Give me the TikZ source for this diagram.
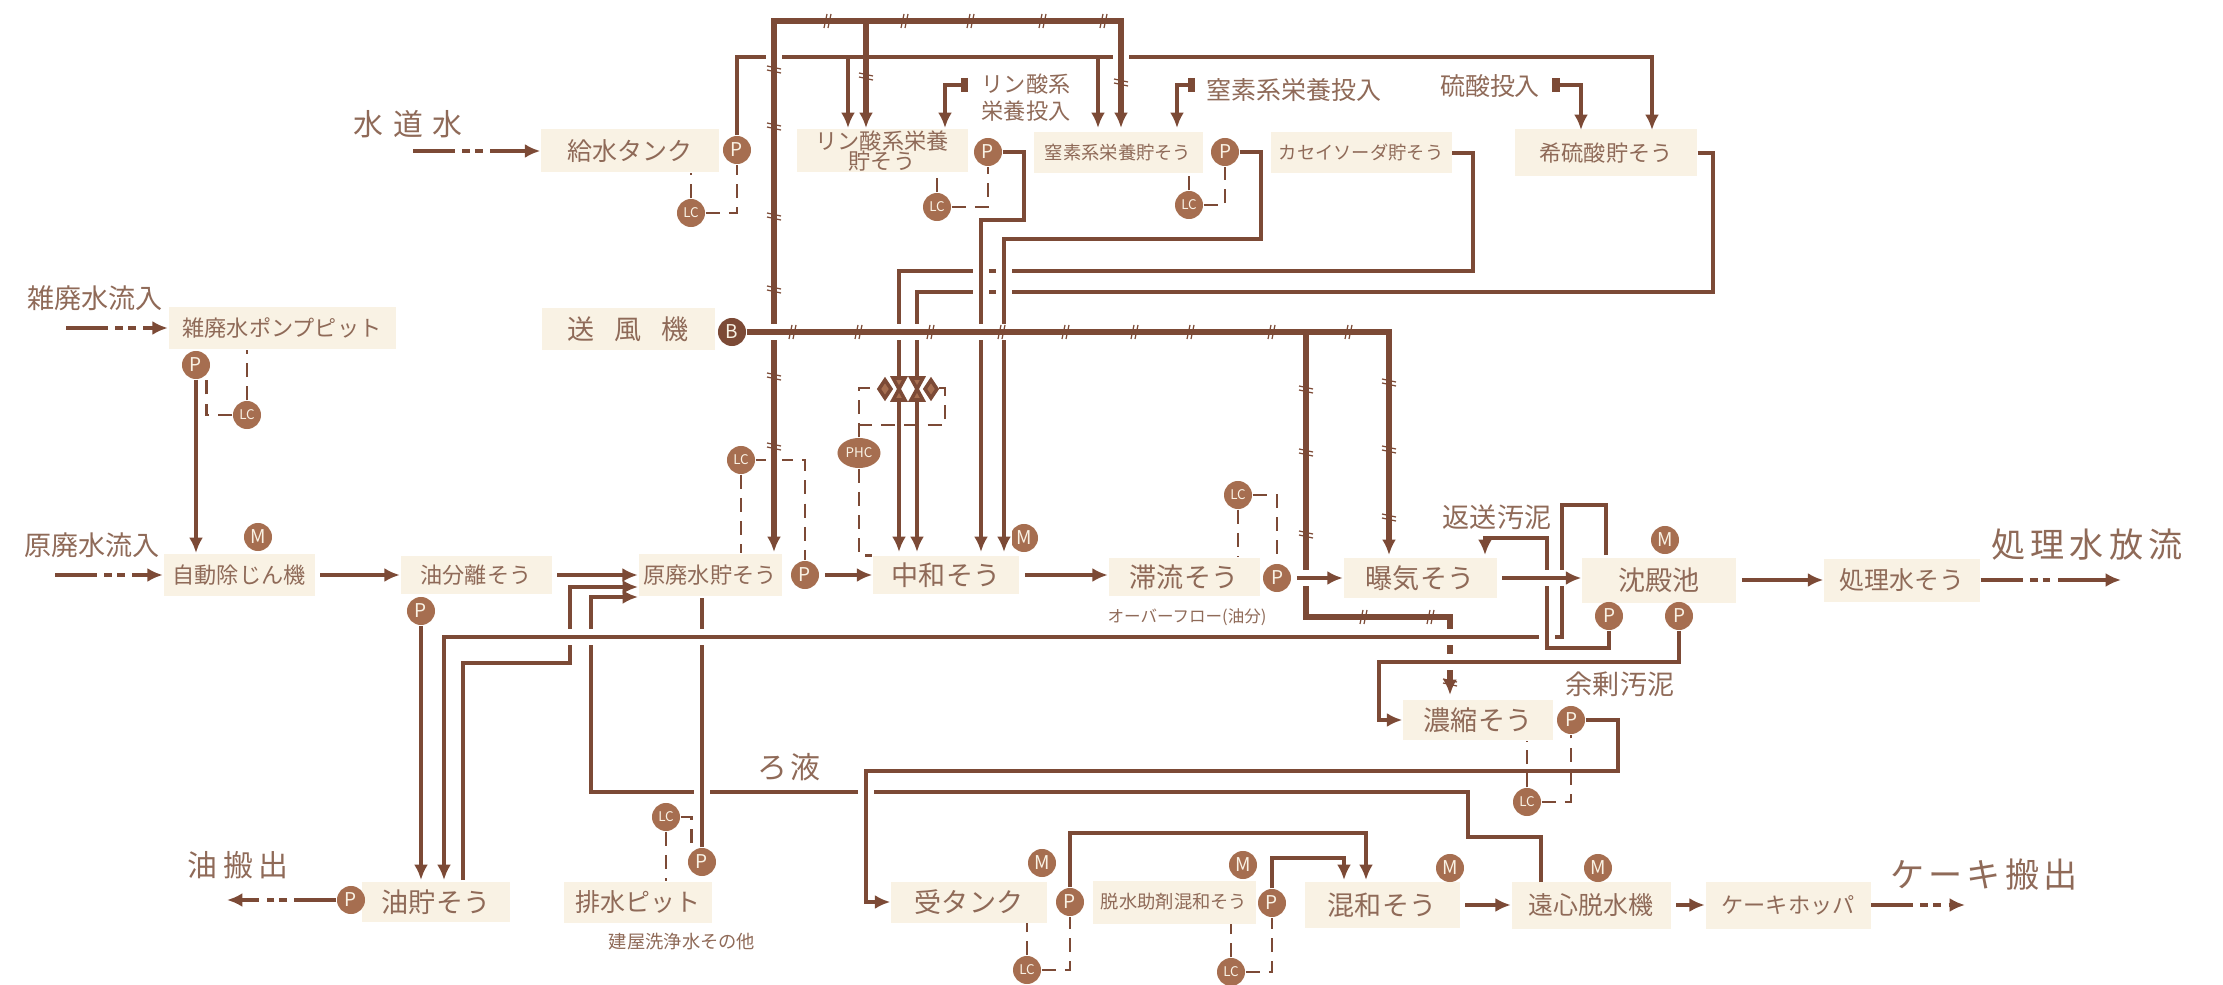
\documentclass[tikz,border=0pt]{standalone}
\usepackage{fontspec}
\setmainfont{Noto Sans CJK JP}
\usetikzlibrary{arrows.meta,shapes.geometric}
\definecolor{inkcol}{HTML}{7C4A36}
\definecolor{txtcol}{HTML}{8F6A58}
\definecolor{boxcol}{HTML}{F9F2E4}
\definecolor{dotcol}{HTML}{A66E50}
\newcommand{\wgap}[1]{\hspace{#1mm}}
\tikzset{
  f16/.style={font=\fontsize{4.7}{5.6}\selectfont},
  f18/.style={font=\fontsize{5.2}{6.2}\selectfont},
  f22/.style={font=\fontsize{6.3}{7.7}\selectfont},
  f25/.style={font=\fontsize{7.1}{8.5}\selectfont},
  f27/.style={font=\fontsize{7.7}{9.2}\selectfont},
  f30/.style={font=\fontsize{8.5}{10}\selectfont},
  f34/.style={font=\fontsize{9.7}{11.6}\selectfont},
  tank/.style n args={2}{fill=boxcol,text=txtcol,inner sep=0pt,align=center,
    minimum width=#1*0.01cm,minimum height=#2*0.01cm},
  label/.style={text=txtcol,inner sep=0pt,align=center},
  unit/.style={circle,fill=dotcol,text=boxcol,inner sep=0pt,minimum size=0.28cm,
    font=\fontsize{5.4}{6}\selectfont},
  lctl/.style={unit,font=\fontsize{3.8}{4}\selectfont},
  pipe/.style={draw=inkcol,line width=1pt},
  flow/.style={draw=inkcol,line width=1.3pt,shorten <=1.5pt},
  air/.style={draw=inkcol,line width=1.6pt},
  over/.style={preaction={-,draw=white,line width=4.8pt}},
  signal/.style={draw=inkcol,line width=.8pt,dash pattern=on 4pt off 2.6pt},
  feed/.style={draw=inkcol,line width=1.4pt,
    dash pattern=on 12pt off 2pt on 2.2pt off 1.4pt on 2.2pt off 2.2pt on 40pt off 0pt},
  dose/.style={arrows={Bar[width=4pt,sep=.7pt]Bar[width=4pt]}-{Latex[length=4.4pt,width=4pt]}},
  airtick/.pic={\draw[inkcol,line width=.35pt] (-3,7) -- (0,-7) (1,7) -- (4,-7);},
  valvebody/.pic={
    \draw[pipe,fill=dotcol] (-6,-11) -- (6,-11) -- (-6,11) -- (6,11) -- cycle;
    \draw[pipe,fill=dotcol] (-8,0) -- (-14,-9) -- (-20,0) -- (-14,9) -- cycle;}
}
\begin{document}
\begin{tikzpicture}[x=0.01cm,y=-0.01cm,>={Latex[length=4.4pt,width=4pt]}]
  \useasboundingbox (0,0) rectangle (2223,985);
  \draw
    (630,151) node[tank={178}{43},f25] (kyusui){給水タンク}
    (282,328) node[tank={227}{42},f22] (zatsu){雑廃水ポンプピット}
    (628,329) node[tank={173}{42},f27] (sofu){送\wgap{2}風\wgap{2}機}
    (239,575) node[tank={151}{42},f22] (jin){自動除じん機}
    (476,575) node[tank={151}{38},f22] (yubun){油分離そう}
    (710,575) node[tank={143}{42},f22] (gen){原廃水貯そう}
    (946,575) node[tank={146}{38},f27] (chuwa){中和そう}
    (1184,577) node[tank={151}{38},f27] (tairyu){滞流そう}
    (1420,578) node[tank={153}{40},f27] (bakki){曝気そう}
    (1659,580) node[tank={154}{45},f27] (chin){沈殿池}
    (1902,580) node[tank={156}{43},f25] (shori){処理水そう}
    (882,151) node[tank={171}{43},f22] (rin){リン酸系栄養\\[-2pt]貯そう}
    (1118,153) node[tank={169}{41},f18] (chiso){窒素系栄養貯そう}
    (1361,153) node[tank={181}{41},f18] (soda){カセイソーダ貯そう}
    (1606,153) node[tank={182}{47},f22] (ryusan){希硫酸貯そう}
    (1478,720) node[tank={150}{40},f27] (noshuku){濃縮そう}
    (436,902) node[tank={148}{40},f27] (abura){油貯そう}
    (638,902) node[tank={148}{41},f25] (haisui){排水ピット}
    (969,902) node[tank={156}{41},f27] (uke){受タンク}
    (1174,902) node[tank={163}{43},f18] (dassui){脱水助剤混和そう}
    (1382,905) node[tank={155}{46},f27] (konwa){混和そう}
    (1591,905) node[tank={159}{47},f25] (enshin){遠心脱水機}
    (1788,905) node[tank={165}{47},f22] (hopper){ケーキホッパ}
    (737,150) node[unit] (kyusuiP){P}
    (691,213) node[lctl] (kyusuiLC){LC}
    (988,152) node[unit] (rinP){P}
    (937,207) node[lctl] (rinLC){LC}
    (1225,152) node[unit] (chisoP){P}
    (1189,205) node[lctl] (chisoLC){LC}
    (732,332) node[unit,fill=inkcol] (blower){B}
    (196,365) node[unit] (zatsuP){P}
    (247,415) node[lctl] (zatsuLC){LC}
    (258,537) node[unit] (jinM){M}
    (421,611) node[unit] (yubunP){P}
    (741,460) node[lctl] (genLC){LC}
    (805,575) node[unit] (genP){P}
    (859,453) node[ellipse,fill=dotcol,text=boxcol,inner sep=0pt,minimum width=0.43cm,minimum height=0.3cm,font=\fontsize{3.8}{4}\selectfont] (phc){PHC}
    (1024,538) node[unit] (chuwaM){M}
    (1238,495) node[lctl] (tairyuLC){LC}
    (1277,578) node[unit] (tairyuP){P}
    (1665,540) node[unit] (chinM){M}
    (1609,616) node[unit] (chinR){P}
    (1679,616) node[unit] (chinP){P}
    (1571,720) node[unit] (noshukuP){P}
    (1527,802) node[lctl] (noshukuLC){LC}
    (351,900) node[unit] (aburaP){P}
    (702,862) node[unit] (haisuiP){P}
    (666,817) node[lctl] (haisuiLC){LC}
    (1042,863) node[unit] (ukeM){M}
    (1070,902) node[unit] (ukeP){P}
    (1027,970) node[lctl] (ukeLC){LC}
    (1243,865) node[unit] (dassuiM){M}
    (1272,903) node[unit] (dassuiP){P}
    (1231,972) node[lctl] (dassuiLC){LC}
    (1450,868) node[unit] (konwaM){M}
    (1598,868) node[unit] (enshinM){M}
    (408,124) node[label,f30] (suido){水\wgap{1}道\wgap{1}水}
    (95,298) node[label,f27] (zatsuin){雑廃水流入}
    (92,545) node[label,f27] (genin){原廃水流入}
    (238,865) node[label,f30] (aburaout){油\wgap{.6}搬\wgap{.6}出}
    (1026,98) node[label,f22] (rinlab){リン酸系\\栄養投入}
    (1294,90) node[label,f25] (chisolab){窒素系栄養投入}
    (1490,86) node[label,f25] (ryulab){硫酸投入}
    (1497,517) node[label,f27] (hensolab){返送汚泥}
    (1620,684) node[label,f27] (yojolab){余剰汚泥}
    (2087,545) node[label,f34] (shoriout){処\wgap{.5}理\wgap{.5}水\wgap{.5}放\wgap{.5}流}
    (1984,875) node[label,f34] (cakeout){ケ\wgap{.4}ー\wgap{.4}キ\wgap{.4}搬\wgap{.4}出}
    (789,767) node[label,f30] (rolab){ろ\wgap{.3}液}
    (1187,617) node[label,f16] (overlab){オーバーフロー(油分)}
    (682,942) node[label,f18] (kenlab){建屋洗浄水その他};
  \foreach \n/\x/\y in {
      rinW/848/128,rinAir/866/128,rinIn/945/128,chisoW/1098/128,chisoAir/1121/128,
      chisoIn/1177/128,ryuW/1652/130,ryuIn/1581/130,rinCap/970/85,chisoCap/1197/85,
      ryuCap/1550/85,genIn/774/552,airT/866/21,chuA/899/552,chuB/917/552,chuC/981/552,
      chuD/1004/552,bakkiAir/1389/555,noshukuAir/1450/695,jinA/196/553,
      genD/702/598,chinA/1606/555,bakkiB/1485/555,valveA/884/388,valveB/936/388,
      phT/858/425,inGen/55/575,inZatsu/66/328,inSui/413/151,outAbura/227/900,
      outShori/2121/580,outCake/1965/905,wN1/848/57,wN2/1098/57,airB/1306/332,
      oilB/463/880,oilA/444/880,oilC/421/880,genB/638/587,genC/638/597,datsuA/1541/882,
      konA/1344/880,konB/1366/880}
    \coordinate (\n) at (\x,\y);
  \begin{scope}
    \draw[pipe,->] (kyusuiP) |- (1652,57) -- (ryuW);
    \draw[pipe,->] (wN1) -- (rinW);
    \draw[pipe,->] (wN2) -- (chisoW);
    \draw[pipe,dose] (rinCap) -| (rinIn);
    \draw[pipe,dose] (chisoCap) -| (chisoIn);
    \draw[pipe,dose] (ryuCap) -| (ryuIn);
    \draw[pipe,->] (soda.east) -| (1473,271) -| (chuA);
    \draw[pipe,->] (ryusan.east) -| (1713,292) -| (chuB);
    \draw[pipe,over,->] (rinP.east) -| (1024,220) -| (chuC);
    \draw[pipe,over,->] (chisoP.east) -| (1261,239) -| (chuD);
    \draw[signal] (genLC) -| (genP);
    \draw[air,over,<->] (genIn) |- (1121,21) -- (chisoAir);
    \draw[air,->] (airT) -- (rinAir);
    \draw[air,over,->] (blower) -- (1389,332) -- (bakkiAir);
    \draw[air,->] (airB) |- (1450,617) -- (noshukuAir);
    \draw[pipe,->] (oilB) |- (570,663) |- (genB);
    \draw[pipe,->] (datsuA) |- (1468,837) |- (591,792) |- (genC);
    \draw[pipe,over] (haisuiP) -- (genD);
    \draw[pipe,over,->] (noshukuP.east) -| (1618,771) -| (866,902) -- (uke.west);
    \draw[pipe,over,->] (chinA) |- (1562,505) |- (444,637) -- (oilA);
    \draw[pipe,over,->] (chinP) |- (1379,662) |- (noshuku.west);
    \draw[pipe,over,->] (chinR) |- (1547,648) |- (1485,538) -- (bakkiB);
    \draw[pipe,->] (yubunP) -- (oilC);
    \draw[pipe,->] (zatsuP) -- (jinA);
    \draw[pipe,->] (ukeP) |- (1366,833) -- (konB);
    \draw[pipe,->] (dassuiP) |- (1344,858) -- (konA);
    \draw[flow,->] (jin.east) -- (yubun.west);
    \draw[flow,->] (yubun.east) -- (gen.west);
    \draw[flow,->] (genP) -- (chuwa.west);
    \draw[flow,->] (chuwa.east) -- (chuwa.east -| tairyu.west);
    \draw[flow,over,->] (tairyuP) -- (bakki.west);
    \draw[flow,over,->] (bakki.east) -- (bakki.east -| chin.west);
    \draw[flow,->] (chin.east) -- (shori.west);
    \draw[flow,->] (konwa.east) -- (enshin.west);
    \draw[flow,->] (enshin.east) -- (hopper.west);
    \draw[feed,->] (inGen) -- (jin.west);
    \draw[feed,->] (inZatsu) -- (zatsu.west);
    \draw[feed,->] (inSui) -- (kyusui.west);
    \draw[feed,->] (aburaP) -- (outAbura);
    \draw[feed,->] (shori.east) -- (outShori);
    \draw[feed,->] (hopper.east) -- (outCake);
    \draw[signal] (kyusuiLC) -- (kyusuiLC |- kyusui.south);
    \draw[signal] (kyusuiLC) -| (kyusuiP);
    \draw[signal] (rinLC) -- (rinLC |- rin.south);
    \draw[signal] (rinLC) -| (rinP);
    \draw[signal] (chisoLC) -- (chisoLC |- chiso.south);
    \draw[signal] (chisoLC) -| (chisoP);
    \draw[signal] (zatsuLC) -- (zatsuLC |- zatsu.south);
    \draw[signal] (zatsuLC) -| (zatsuP.south east);
    \draw[signal] (genLC) -- (genLC |- gen.north);
    \draw[signal] (tairyuLC) -- (tairyuLC |- tairyu.north);
    \draw[signal] (tairyuLC) -| (tairyuP);
    \draw[signal] (noshukuLC) -- (noshukuLC |- noshuku.south);
    \draw[signal] (noshukuLC) -| (noshukuP);
    \draw[signal] (haisuiLC) -- (haisuiLC |- haisui.north);
    \draw[signal] (haisuiLC) -| (haisuiP.north west);
    \draw[signal] (ukeLC) -- (ukeLC |- uke.south);
    \draw[signal] (ukeLC) -| (ukeP);
    \draw[signal] (dassuiLC) -- (dassuiLC |- dassui.south);
    \draw[signal] (dassuiLC) -| (dassuiP);
    \draw[signal] (phc) |- (chuwa.north west);
    \draw[signal] (phc) |- (valveA);
    \draw[signal] (phT) -| (945,388) -- (valveB);
  \end{scope}
  \pic at (899,389) {valvebody};
  \pic[xscale=-1] at (917,389) {valvebody};
  \foreach \x in {827,904,970,1042,1103} \pic at (\x,21) {airtick};
  \foreach \x in {792,858,930,1001,1065,1134,1190,1271,1348} \pic at (\x,332) {airtick};
  \foreach \x in {1363,1430} \pic at (\x,617) {airtick};
  \foreach \y in {70,127,217,290,377,447} \pic[rotate=90] at (774,\y) {airtick};
  \foreach \y in {383,450,518} \pic[rotate=90] at (1389,\y) {airtick};
  \foreach \y in {390,453,535} \pic[rotate=90] at (1306,\y) {airtick};
  \pic[rotate=90] at (866,77) {airtick};
  \pic[rotate=90] at (1121,83) {airtick};
  \pic[rotate=90] at (1450,683) {airtick};
\end{tikzpicture}
\end{document}
